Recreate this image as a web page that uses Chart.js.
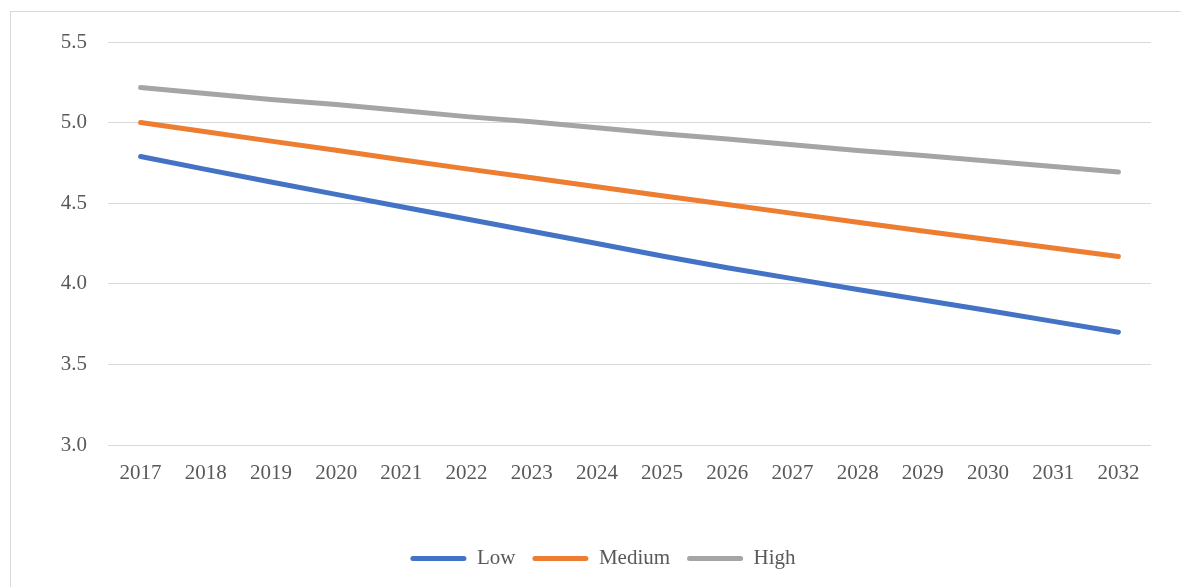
<!DOCTYPE html>
<html>
<head>
<meta charset="utf-8">
<script src="https://cdn.jsdelivr.net/npm/chart.js@4"></script>
<style>
  html, body { margin: 0; padding: 0; background: #ffffff; overflow: hidden; }
  #wrap { position: absolute; left: 0; top: 0; width: 1181px; height: 587px; }
</style>
</head>
<body>
<div id="wrap"><canvas id="chart"></canvas></div>
<script>
// Years on the horizontal axis
const years = ['2017','2018','2019','2020','2021','2022','2023','2024',
               '2025','2026','2027','2028','2029','2030','2031','2032'];

// Projection scenarios
const lowSeries    = [4.79, 4.71, 4.632, 4.555, 4.478, 4.402, 4.326, 4.25,
                      4.172, 4.10, 4.032, 3.965, 3.90, 3.834, 3.767, 3.70];
const mediumSeries = [5.00, 4.943, 4.885, 4.828, 4.770, 4.713, 4.658, 4.602,
                      4.546, 4.492, 4.437, 4.382, 4.328, 4.275, 4.222, 4.170];
const highSeries   = [5.218, 5.181, 5.144, 5.112, 5.075, 5.037, 5.005, 4.968,
                      4.931, 4.898, 4.862, 4.827, 4.796, 4.762, 4.727, 4.693];

// Value axis range and tick step
const yMin = 3.0;
const yMax = 5.5;
const yStep = 0.5;

const FONT = "'Liberation Serif', 'Times New Roman', serif";
const TEXT = '#595959';
const GRID = '#d9d9d9';

// Thin frame around the chart
const framePlugin = {
  id: 'frame',
  beforeDraw(chart) {
    const ctx = chart.ctx;
    ctx.save();
    ctx.strokeStyle = GRID;
    ctx.lineWidth = 1;
    ctx.strokeRect(10.5, 11.5, 3000, 3000);
    ctx.restore();
  }
};

const makeSet = (label, data, color) => ({
  label, data,
  borderColor: color,
  backgroundColor: color,
  borderWidth: 5,
  borderCapStyle: 'round',
  borderJoinStyle: 'round',
  pointRadius: 0,
  pointHoverRadius: 0,
  tension: 0,
  fill: false
});

new Chart(document.getElementById('chart'), {
  type: 'line',
  data: {
    labels: years,
    datasets: [
      makeSet('Low', lowSeries, '#4472C4'),
      makeSet('Medium', mediumSeries, '#ED7D31'),
      makeSet('High', highSeries, '#A5A5A5')
    ]
  },
  options: {
    responsive: true,
    maintainAspectRatio: false,
    animation: false,
    events: [],
    layout: { padding: { left: 55, right: 30, top: 42, bottom: 8 } },
    plugins: {
      tooltip: { enabled: false },
      legend: {
        position: 'bottom',
        align: 'center',
        labels: {
          font: { family: FONT, size: 21 },
          color: TEXT,
          boxWidth: 56,
          boxHeight: 5,
          padding: 17,
          useBorderRadius: true,
          borderRadius: 2.5,
          generateLabels(chart) {
            return chart.data.datasets.map((ds, i) => ({
              text: ds.label,
              fillStyle: ds.borderColor,
              strokeStyle: ds.borderColor,
              lineWidth: 0,
              borderRadius: 2.5,
              fontColor: TEXT,
              hidden: false,
              datasetIndex: i
            }));
          }
        }
      }
    },
    scales: {
      x: {
        type: 'category',
        offset: true,
        grid: { display: false, drawTicks: false },
        border: { display: false },
        ticks: {
          font: { family: FONT, size: 21 },
          color: TEXT,
          padding: 16,
          maxRotation: 0,
          autoSkip: false
        },
        afterFit(scale) { scale.height = 86; }
      },
      y: {
        min: yMin,
        max: yMax,
        grid: { color: GRID, lineWidth: 1, drawTicks: false },
        border: { display: false },
        ticks: {
          stepSize: yStep,
          font: { family: FONT, size: 21 },
          color: TEXT,
          padding: 21,
          callback: (v) => Number(v).toFixed(1)
        },
        afterFit(scale) { scale.width = 53; }
      }
    }
  },
  plugins: [framePlugin]
});
</script>
</body>
</html>
